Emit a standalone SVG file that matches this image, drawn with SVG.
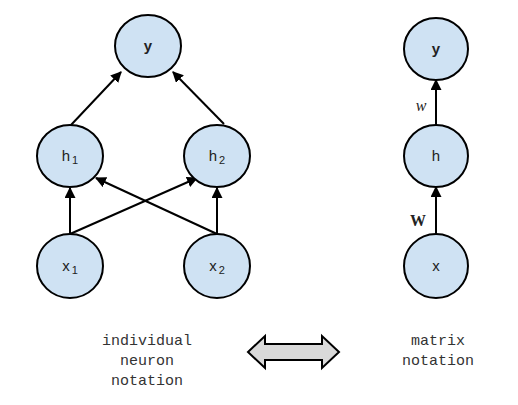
<svg xmlns="http://www.w3.org/2000/svg" width="518" height="405" viewBox="0 0 518 405">
<style>
.node{fill:#cfe2f3;stroke:#000;stroke-width:2}
.lbl{font-family:"Liberation Sans",Arial,sans-serif;font-size:15px;fill:#222;text-anchor:middle}
.sub{font-size:11px}
.edge{stroke:#000;stroke-width:2;fill:none;marker-end:url(#ah)}
.mono{font-family:"Liberation Mono","DejaVu Sans Mono",monospace;font-size:15px;fill:#333;text-anchor:middle}
.w{font-family:"Liberation Serif","Times New Roman",serif;font-size:16px;fill:#222;text-anchor:middle}
</style>
<defs>
<marker id="ah" viewBox="0 0 10 10" refX="9" refY="5" markerWidth="5.5" markerHeight="5.5" orient="auto" markerUnits="strokeWidth">
<path d="M0,0 L10,5 L0,10 z" fill="#000"/>
</marker>
</defs>
<rect width="518" height="405" fill="#fff"/>
<g id="connectors">
<line class="edge" x1="71" y1="125" x2="121" y2="72"/>
<line class="edge" x1="224" y1="124" x2="173" y2="72"/>
<line class="edge" x1="70" y1="234" x2="70" y2="188"/>
<line class="edge" x1="70" y1="234" x2="197" y2="178"/>
<line class="edge" x1="217" y1="234" x2="96" y2="178"/>
<line class="edge" x1="217" y1="234" x2="217" y2="188"/>
<line class="edge" x1="436" y1="125" x2="436" y2="80"/>
<line class="edge" x1="436" y1="234" x2="436" y2="187"/>
</g>
<g id="node-y">
<ellipse class="node" cx="148" cy="46" rx="33" ry="31"/>
<text class="lbl" x="148" y="51" font-weight="bold">y</text>
</g>
<g id="node-h1">
<ellipse class="node" cx="70" cy="156" rx="33" ry="31"/>
<text class="lbl" x="70" y="161">h<tspan class="sub" dx="2" dy="3">1</tspan></text>
</g>
<g id="node-h2">
<ellipse class="node" cx="217" cy="156" rx="33" ry="31"/>
<text class="lbl" x="217" y="161">h<tspan class="sub" dx="2" dy="3">2</tspan></text>
</g>
<g id="node-x1">
<ellipse class="node" cx="70" cy="266" rx="33" ry="32"/>
<text class="lbl" x="70" y="271">x<tspan class="sub" dx="2" dy="3">1</tspan></text>
</g>
<g id="node-x2">
<ellipse class="node" cx="217" cy="266" rx="33" ry="32"/>
<text class="lbl" x="217" y="271">x<tspan class="sub" dx="2" dy="3">2</tspan></text>
</g>
<g id="node-my">
<ellipse class="node" cx="436" cy="49" rx="32" ry="31"/>
<text class="lbl" x="436" y="54" font-weight="bold">y</text>
</g>
<g id="node-mh">
<ellipse class="node" cx="436" cy="156" rx="32" ry="31"/>
<text class="lbl" x="436" y="161">h</text>
</g>
<g id="node-mx">
<ellipse class="node" cx="436" cy="266" rx="32" ry="32"/>
<text class="lbl" x="436" y="271">x</text>
</g>
<text class="w" x="421" y="111" font-style="italic">w</text>
<text class="w" x="418" y="226" font-weight="bold">W</text>
<g id="labels">
<text class="mono" x="147" y="345">individual</text>
<text class="mono" x="147" y="365">neuron</text>
<text class="mono" x="147" y="385">notation</text>
<text class="mono" x="438" y="345">matrix</text>
<text class="mono" x="438" y="365">notation</text>
</g>
<g id="double-arrow">
<path d="M248,352 L265,336 L265,344 L322,344 L322,336 L339,352 L322,368 L322,360 L265,360 L265,368 Z" fill="#d9d9d9" stroke="#000" stroke-width="2" stroke-linejoin="miter"/>
</g>
</svg>
